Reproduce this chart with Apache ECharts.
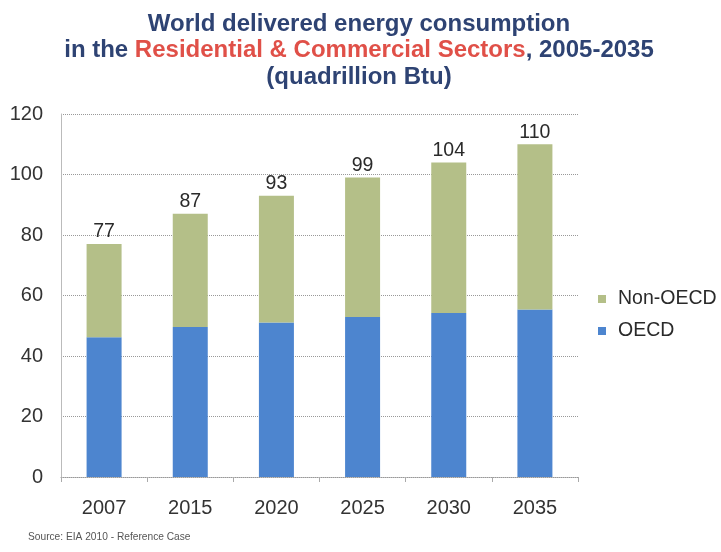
<!DOCTYPE html>
<html><head><meta charset="utf-8">
<script src="https://cdn.jsdelivr.net/npm/echarts@6/dist/echarts.min.js"></script>
<style>html,body{margin:0;padding:0;background:#fff}#c{width:721px;height:552px}</style>
</head><body><div id="c"></div>
<script>
const categories = ['2007','2015','2020','2025','2030','2035'];
const oecd = [46.2, 49.6, 51.1, 52.9, 54.2, 55.4];
const totals = [77, 87, 93, 99, 104, 110];
const nonOecd = [30.8, 37.4, 41.9, 46.1, 49.8, 54.6];
const yTicks = [0, 20, 40, 60, 80, 100, 120];

const chart = echarts.init(document.getElementById('c'));
const font = 'Liberation Sans, Arial, sans-serif';
chart.setOption({
  animation: false,
  backgroundColor: '#fff',
  title: {
    left: 359, top: 11, textAlign: 'center', padding: 0,
    text: '{n|World delivered energy consumption}\n{n|in the }{r|Residential & Commercial Sectors}{n|, 2005-2035}\n{n|(quadrillion Btu)}',
    textStyle: {
      fontFamily: font,
      rich: {
        n: {fontSize: 24, fontWeight: 'bold', color: '#2e4373', fontFamily: font, lineHeight: 26.5},
        r: {fontSize: 24, fontWeight: 'bold', color: '#e05048', fontFamily: font, lineHeight: 26.5}
      }
    }
  },
  legend: {
    orient: 'vertical', left: 593, top: 284,
    itemWidth: 8, itemHeight: 8, itemGap: 12,
    icon: 'rect',
    data: ['Non-OECD', 'OECD'],
    textStyle: {fontSize: 19.5, color: '#2a2a2a', fontFamily: font, padding: [0,0,0,7]}
  },
  graphic: [{
    type: 'text', left: 28, top: 532,
    style: {text: 'Source: EIA 2010 - Reference Case', fontSize: 10.2, fill: '#555', fontFamily: font}
  }],
  grid: {left: 61, right: 143, top: 114, bottom: 75},
  xAxis: {
    type: 'category', data: categories,
    axisLine: {show: true, lineStyle: {color: '#999', type: 'dotted'}},
    axisTick: {show: true, lineStyle: {color: '#aaa'}},
    axisLabel: {fontSize: 20, color: '#333', fontFamily: font, margin: 21}
  },
  yAxis: {
    type: 'value', min: 0, max: 120, interval: 20,
    axisLine: {show: true, lineStyle: {color: '#bbb'}},
    axisTick: {show: false},
    axisLabel: {fontSize: 20, color: '#333', fontFamily: font, margin: 18,
      formatter: v => yTicks.includes(v) ? String(v) : ''},
    splitLine: {show: true, lineStyle: {color: '#999', type: 'dotted'}}
  },
  series: [
    {name: 'OECD', type: 'bar', stack: 't', data: oecd, barWidth: 35,
     itemStyle: {color: '#4d85cf'}},
    {name: 'Non-OECD', type: 'bar', stack: 't', data: nonOecd, barWidth: 35,
     itemStyle: {color: '#b4bf88'},
     label: {show: true, position: 'top', distance: 2, fontSize: 19.5, color: '#2a2a2a', fontFamily: font,
       formatter: p => String(totals[p.dataIndex])}}
  ]
});
</script></body></html>
